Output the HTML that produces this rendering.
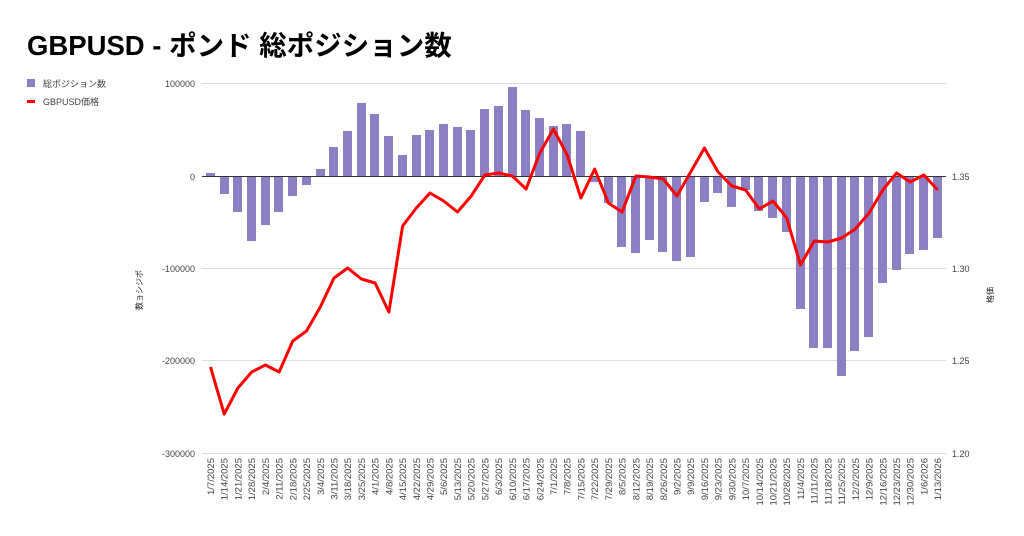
<!DOCTYPE html>
<html><head><meta charset="utf-8"><style>
html,body{margin:0;padding:0;background:#fff;width:1024px;height:536px;overflow:hidden}
svg text{font-family:"Liberation Sans","Noto Sans CJK JP",sans-serif}
</style></head><body>
<svg width="1024" height="536" viewBox="0 0 1024 536" xmlns="http://www.w3.org/2000/svg">
<text x="27" y="55" font-size="27.5" font-weight="bold" fill="#000">GBPUSD - ポンド 総ポジション数</text>
<rect x="27" y="79" width="8" height="8" fill="#8c7fc4"/>
<text x="43" y="87" font-size="9" fill="#444">総ポジション数</text>
<rect x="27" y="100" width="8" height="3" fill="#f00"/>
<text x="43" y="105" font-size="9" fill="#444">GBPUSD価格</text>
<g stroke="#ddd" stroke-width="1">
<line x1="202" x2="946" y1="83.5" y2="83.5"/><line x1="202" x2="946" y1="268.5" y2="268.5"/>
<line x1="202" x2="946" y1="360.5" y2="360.5"/><line x1="202" x2="946" y1="453.5" y2="453.5"/>
</g>
<g font-size="9" fill="#444" text-anchor="end">
<text x="195" y="87">100000</text><text x="195" y="180">0</text><text x="195" y="272">-100000</text><text x="195" y="364">-200000</text><text x="195" y="457">-300000</text>
</g>
<g font-size="9" fill="#444">
<text x="952" y="180">1.35</text><text x="952" y="272">1.30</text><text x="952" y="364">1.25</text><text x="952" y="457">1.20</text>
</g>
<text transform="translate(142,290) rotate(-90)" font-size="8" fill="#222" text-anchor="middle">数ョシジポ</text>
<text transform="translate(993,295) rotate(-90)" font-size="8" fill="#222" text-anchor="middle">格価</text>
<g fill="#8c7fc4">
<rect x="206" y="173" width="9" height="3"/>
<rect x="220" y="176" width="9" height="18"/>
<rect x="233" y="176" width="9" height="36"/>
<rect x="247" y="176" width="9" height="65"/>
<rect x="261" y="176" width="9" height="49"/>
<rect x="274" y="176" width="9" height="36"/>
<rect x="288" y="176" width="9" height="20"/>
<rect x="302" y="176" width="9" height="9"/>
<rect x="316" y="169" width="9" height="7"/>
<rect x="329" y="147" width="9" height="29"/>
<rect x="343" y="131" width="9" height="45"/>
<rect x="357" y="103" width="9" height="73"/>
<rect x="370" y="114" width="9" height="62"/>
<rect x="384" y="136" width="9" height="40"/>
<rect x="398" y="155" width="9" height="21"/>
<rect x="412" y="135" width="9" height="41"/>
<rect x="425" y="130" width="9" height="46"/>
<rect x="439" y="124" width="9" height="52"/>
<rect x="453" y="127" width="9" height="49"/>
<rect x="466" y="130" width="9" height="46"/>
<rect x="480" y="109" width="9" height="67"/>
<rect x="494" y="106" width="9" height="70"/>
<rect x="508" y="87" width="9" height="89"/>
<rect x="521" y="110" width="9" height="66"/>
<rect x="535" y="118" width="9" height="58"/>
<rect x="549" y="126" width="9" height="50"/>
<rect x="562" y="124" width="9" height="52"/>
<rect x="576" y="131" width="9" height="45"/>
<rect x="590" y="176" width="9" height="6"/>
<rect x="604" y="176" width="9" height="27"/>
<rect x="617" y="176" width="9" height="71"/>
<rect x="631" y="176" width="9" height="77"/>
<rect x="645" y="176" width="9" height="64"/>
<rect x="658" y="176" width="9" height="76"/>
<rect x="672" y="176" width="9" height="85"/>
<rect x="686" y="176" width="9" height="81"/>
<rect x="700" y="176" width="9" height="26"/>
<rect x="713" y="176" width="9" height="17"/>
<rect x="727" y="176" width="9" height="31"/>
<rect x="741" y="176" width="9" height="14"/>
<rect x="754" y="176" width="9" height="35"/>
<rect x="768" y="176" width="9" height="42"/>
<rect x="782" y="176" width="9" height="56"/>
<rect x="796" y="176" width="9" height="133"/>
<rect x="809" y="176" width="9" height="172"/>
<rect x="823" y="176" width="9" height="172"/>
<rect x="837" y="176" width="9" height="200"/>
<rect x="850" y="176" width="9" height="175"/>
<rect x="864" y="176" width="9" height="161"/>
<rect x="878" y="176" width="9" height="107"/>
<rect x="892" y="176" width="9" height="94"/>
<rect x="905" y="176" width="9" height="78"/>
<rect x="919" y="176" width="9" height="74"/>
<rect x="933" y="176" width="9" height="62"/>
</g>
<line x1="202" x2="946" y1="176.5" y2="176.5" stroke="#333" stroke-width="1"/>
<polyline fill="none" stroke="#f00" stroke-width="3" stroke-linejoin="round" points="210.5,367 224.2,414 237.9,388 251.7,372 265.4,365 279.1,372 292.8,341 306.5,331 320.3,307 334,278 347.7,268 361.4,279 375.1,283 388.9,312 402.6,226 416.3,208 430,193 443.7,201 457.5,212 471.2,196 484.9,175 498.6,173 512.3,176 526.1,189 539.8,153 553.5,129 567.2,155 580.9,198 594.7,169 608.4,203 622.1,212 635.8,176 649.5,177 663.3,179 677,196 690.7,172 704.4,148 718.1,172 731.9,186 745.6,190 759.3,209 773,201 786.7,218 800.5,265 814.2,241 827.9,242 841.6,238 855.3,229 869.1,213 882.8,190 896.5,173 910.2,182 923.9,175 937.7,190"/>
<g font-size="9.5" fill="#444" text-anchor="end">
<text transform="translate(214,458) rotate(-90)">1/7/2025</text>
<text transform="translate(227.7,458) rotate(-90)">1/14/2025</text>
<text transform="translate(241.4,458) rotate(-90)">1/21/2025</text>
<text transform="translate(255.2,458) rotate(-90)">1/28/2025</text>
<text transform="translate(268.9,458) rotate(-90)">2/4/2025</text>
<text transform="translate(282.6,458) rotate(-90)">2/11/2025</text>
<text transform="translate(296.3,458) rotate(-90)">2/18/2025</text>
<text transform="translate(310,458) rotate(-90)">2/25/2025</text>
<text transform="translate(323.8,458) rotate(-90)">3/4/2025</text>
<text transform="translate(337.5,458) rotate(-90)">3/11/2025</text>
<text transform="translate(351.2,458) rotate(-90)">3/18/2025</text>
<text transform="translate(364.9,458) rotate(-90)">3/25/2025</text>
<text transform="translate(378.6,458) rotate(-90)">4/1/2025</text>
<text transform="translate(392.4,458) rotate(-90)">4/8/2025</text>
<text transform="translate(406.1,458) rotate(-90)">4/15/2025</text>
<text transform="translate(419.8,458) rotate(-90)">4/22/2025</text>
<text transform="translate(433.5,458) rotate(-90)">4/29/2025</text>
<text transform="translate(447.2,458) rotate(-90)">5/6/2025</text>
<text transform="translate(461,458) rotate(-90)">5/13/2025</text>
<text transform="translate(474.7,458) rotate(-90)">5/20/2025</text>
<text transform="translate(488.4,458) rotate(-90)">5/27/2025</text>
<text transform="translate(502.1,458) rotate(-90)">6/3/2025</text>
<text transform="translate(515.8,458) rotate(-90)">6/10/2025</text>
<text transform="translate(529.6,458) rotate(-90)">6/17/2025</text>
<text transform="translate(543.3,458) rotate(-90)">6/24/2025</text>
<text transform="translate(557,458) rotate(-90)">7/1/2025</text>
<text transform="translate(570.7,458) rotate(-90)">7/8/2025</text>
<text transform="translate(584.4,458) rotate(-90)">7/15/2025</text>
<text transform="translate(598.2,458) rotate(-90)">7/22/2025</text>
<text transform="translate(611.9,458) rotate(-90)">7/29/2025</text>
<text transform="translate(625.6,458) rotate(-90)">8/5/2025</text>
<text transform="translate(639.3,458) rotate(-90)">8/12/2025</text>
<text transform="translate(653,458) rotate(-90)">8/19/2025</text>
<text transform="translate(666.8,458) rotate(-90)">8/26/2025</text>
<text transform="translate(680.5,458) rotate(-90)">9/2/2025</text>
<text transform="translate(694.2,458) rotate(-90)">9/9/2025</text>
<text transform="translate(707.9,458) rotate(-90)">9/16/2025</text>
<text transform="translate(721.6,458) rotate(-90)">9/23/2025</text>
<text transform="translate(735.4,458) rotate(-90)">9/30/2025</text>
<text transform="translate(749.1,458) rotate(-90)">10/7/2025</text>
<text transform="translate(762.8,458) rotate(-90)">10/14/2025</text>
<text transform="translate(776.5,458) rotate(-90)">10/21/2025</text>
<text transform="translate(790.2,458) rotate(-90)">10/28/2025</text>
<text transform="translate(804,458) rotate(-90)">11/4/2025</text>
<text transform="translate(817.7,458) rotate(-90)">11/11/2025</text>
<text transform="translate(831.4,458) rotate(-90)">11/18/2025</text>
<text transform="translate(845.1,458) rotate(-90)">11/25/2025</text>
<text transform="translate(858.8,458) rotate(-90)">12/2/2025</text>
<text transform="translate(872.6,458) rotate(-90)">12/9/2025</text>
<text transform="translate(886.3,458) rotate(-90)">12/16/2025</text>
<text transform="translate(900,458) rotate(-90)">12/23/2025</text>
<text transform="translate(913.7,458) rotate(-90)">12/30/2025</text>
<text transform="translate(927.4,458) rotate(-90)">1/6/2026</text>
<text transform="translate(941.2,458) rotate(-90)">1/13/2026</text>
</g>
</svg>
</body></html>
